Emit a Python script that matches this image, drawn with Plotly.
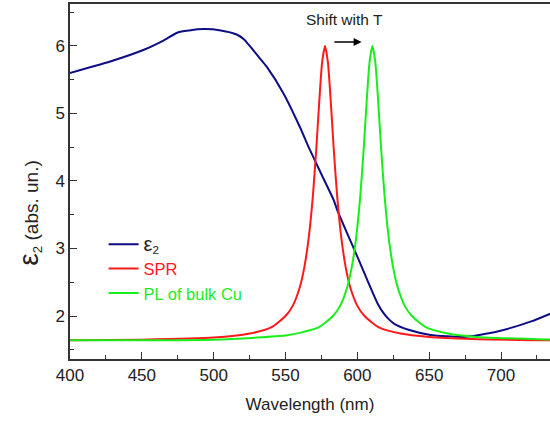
import plotly.graph_objects as go

# epsilon_2 curve
eps_wl = [400, 428, 451, 465, 475, 483, 493, 505, 516, 521, 525.5, 532, 537, 548.5, 560, 567,
          575, 583.5, 586, 600, 614, 618, 622, 626, 635, 651, 674, 697.5, 721, 735]
eps_val = [5.60, 5.77, 5.94, 6.08, 6.20, 6.23, 6.25, 6.23, 6.17, 6.10, 5.99, 5.82, 5.69, 5.30, 4.80, 4.46,
           4.10, 3.72, 3.57, 2.88, 2.19, 2.05, 1.95, 1.88, 1.80, 1.72, 1.69, 1.77, 1.92, 2.04]

# SPR curve
spr_wl = [400, 450, 500, 525, 540, 550, 555, 560, 563, 566, 569, 571.5, 573.5, 575.5, 577.5,
          579.5, 581.5, 583.5, 586, 589, 592, 595, 600, 605, 615, 630, 650, 680, 735]
spr_val = [1.64, 1.65, 1.68, 1.74, 1.83, 2.00, 2.15, 2.43, 2.71, 3.13, 3.76, 4.50, 5.18, 5.76, 6.00,
           5.76, 5.18, 4.50, 3.76, 3.13, 2.71, 2.43, 2.15, 2.00, 1.83, 1.74, 1.69, 1.66, 1.64]

# PL of bulk Cu curve
pl_wl = [400, 450, 500, 530, 550, 560, 573, 583, 588, 593, 596, 599, 602, 604.5, 606.5, 608.5, 610.5,
         612.5, 614.5, 616.5, 619, 622, 625, 628, 633, 638, 648, 663, 683, 735]
pl_val = [1.64, 1.64, 1.65, 1.68, 1.71, 1.75, 1.83, 2.00, 2.15, 2.43, 2.71, 3.13, 3.76, 4.50, 5.18, 5.76, 6.00,
          5.76, 5.18, 4.50, 3.76, 3.13, 2.71, 2.43, 2.15, 2.00, 1.83, 1.74, 1.69, 1.65]

x_ticks = [400, 450, 500, 550, 600, 650, 700]
y_ticks = [2, 3, 4, 5, 6]

NAVY = "#0d0d85"
RED = "#ff1a1a"
GREEN = "#1aee1a"
FONT = "Liberation Sans, Arial, sans-serif"

fig = go.Figure()
fig.add_trace(go.Scatter(x=eps_wl, y=eps_val, mode="lines", line=dict(color=NAVY, width=2, shape="spline", smoothing=0.6),
                         name="<span style='font-size:20px'>ε</span><sub>2</sub>"))
fig.add_trace(go.Scatter(x=spr_wl, y=spr_val, mode="lines", line=dict(color=RED, width=2, shape="spline", smoothing=0.6),
                         name=f"<span style='color:{RED}'>SPR</span>"))
fig.add_trace(go.Scatter(x=pl_wl, y=pl_val, mode="lines", line=dict(color=GREEN, width=2, shape="spline", smoothing=0.6),
                         name=f"<span style='color:{GREEN}'>PL of bulk Cu</span>"))

fig.update_layout(
    width=550, height=425,
    margin=dict(l=70, r=0, t=4, b=66),
    paper_bgcolor="white", plot_bgcolor="white",
    font=dict(family=FONT, size=16, color="#222"),
    showlegend=True,
    legend=dict(x=0.07, y=0.372, xanchor="left", yanchor="top", bgcolor="rgba(0,0,0,0)",
                font=dict(size=16.5), itemwidth=30, tracegroupgap=0),
    xaxis=dict(range=[400, 734.1], tickvals=x_ticks, ticks="inside", ticklen=7, tickwidth=1.2,
               tickcolor="#333", showline=True, linecolor="#333", linewidth=1.5, mirror=True,
               showgrid=False, zeroline=False,
               minor=dict(ticks="inside", ticklen=4, dtick=25, tick0=400, tickcolor="#333", showgrid=False),
               title=dict(text="Wavelength (nm)", font=dict(size=17), standoff=14),
               tickfont=dict(size=17)),
    yaxis=dict(range=[1.363, 6.622], tickvals=y_ticks, ticks="inside", ticklen=7, tickwidth=1.2,
               tickcolor="#333", showline=True, linecolor="#333", linewidth=1.5, mirror=False,
               showgrid=False, zeroline=False,
               minor=dict(ticks="inside", ticklen=4, dtick=0.5, tick0=0, tickcolor="#333", showgrid=False),
               tickfont=dict(size=17)),
    annotations=[
        dict(text="<span style='font-size:28px'>ε</span><sub>2</sub> (abs. un.)", textangle=-90,
             xref="paper", yref="paper", x=-0.085, y=0.41, xanchor="center", yanchor="middle",
             showarrow=False, font=dict(size=19, color="#222")),
        dict(text="Shift with T", xref="x", yref="y", x=591, y=6.39, showarrow=False,
             font=dict(size=15.5, color="#222")),
        dict(x=603, y=6.06, ax=583, ay=6.06, xref="x", yref="y", axref="x", ayref="y",
             showarrow=True, arrowhead=2, arrowsize=1, arrowwidth=1.6, arrowcolor="black", text=""),
    ],
)

fig.write_html("out.html")
